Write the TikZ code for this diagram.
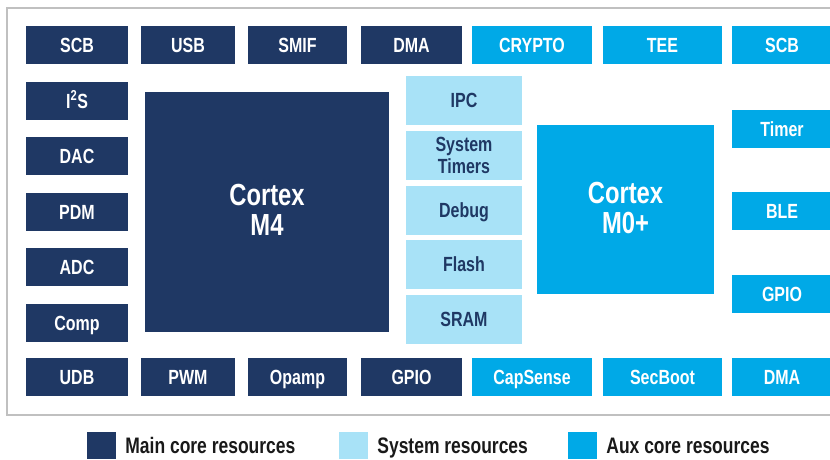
\documentclass[tikz,border=0pt]{standalone}
\usepackage{fontspec}
\setmainfont{Liberation Sans}[FakeStretch=0.78]
\usepackage{xcolor}
\usepackage{tikz}
\usetikzlibrary{positioning}

\definecolor{maincore}{RGB}{31,56,100}
\definecolor{syscore}{RGB}{168,226,247}
\definecolor{auxcore}{RGB}{0,169,231}
\definecolor{framegray}{RGB}{192,192,192}

\tikzset{
    res/.style={inner sep=0pt, minimum height=38pt, font=\fontsize{20.5}{21.5}\selectfont\bfseries},
    oneline/.style={text height=14.7pt, text depth=0pt},
    mainres/.style={res, oneline, fill=maincore, text=white},
    auxres/.style={res, oneline, fill=auxcore, text=white},
    sysres/.style={res, fill=syscore, text=maincore, minimum width=116pt, minimum height=49pt},
    core/.style={inner sep=0pt, text=white, align=center, font=\fontsize{30.5}{30}\selectfont\bfseries},
    keybox/.style={inner sep=0pt, minimum width=29pt, minimum height=27pt},
    keytext/.style={inner sep=0pt, text height=16pt, text depth=0pt, font=\fontsize{22.4}{22}\selectfont\bfseries, text=black!90}
}

\begin{document}
\begin{tikzpicture}[x=1pt,y=-1pt]
                \useasboundingbox (0,0) rectangle (830,460);
                \draw[framegray,line width=2pt] (7,8) rectangle (850,415);

                % top and bottom rows
                \foreach \name/\txt/\cx/\w in {scbm/SCB/77/102, usb/USB/188/94, smif/SMIF/297.5/99, dmam/DMA/411.5/101}
                    \node[mainres, minimum width=\w pt] (\name) at (\cx,45) {\txt};
                \foreach \name/\txt/\cx/\w in {crypto/CRYPTO/532/120, tee/TEE/662.5/119, scba/SCB/782/100}
                    \node[auxres, minimum width=\w pt] (\name) at (\cx,45) {\txt};
                \foreach \name/\txt/\cx/\w in {udb/UDB/77/102, pwm/PWM/188/94, opamp/Opamp/297.5/99, gpiom/GPIO/411.5/101}
                    \node[mainres, minimum width=\w pt] (\name) at (\cx,377) {\txt};
                \foreach \name/\txt/\cx/\w in {capsense/CapSense/532/120, secboot/SecBoot/662.5/119, dmaa/DMA/782/100}
                    \node[auxres, minimum width=\w pt] (\name) at (\cx,377) {\txt};

                % left and right columns
                \node[mainres, minimum width=102pt] (i2s) at (77,101) {I\textsuperscript{2}S};
                \foreach \name/\txt/\cy in {dac/DAC/156, pdm/PDM/212, adc/ADC/267, comp/Comp/323}
                    \node[mainres, minimum width=102pt] (\name) at (77,\cy) {\txt};
                \foreach \name/\txt/\cy in {timer/Timer/129, ble/BLE/211, gpioa/GPIO/294}
                    \node[auxres, minimum width=100pt] (\name) at (782,\cy) {\txt};

                % system resources
                \node[sysres, oneline] (ipc) at (464,100.5) {IPC};
                \node[sysres, align=center] (systimers) at (464,155.5) {System\\Timers};
                \node[sysres, oneline] (debug) at (464,210.5) {Debug};
                \node[sysres, oneline] (flash) at (464,264.5) {Flash};
                \node[sysres, oneline] (sram) at (464,319.5) {SRAM};

                % cores
                \fill[maincore] (145,92) rectangle (389,332);
                \node[core] (m4) at (267,210) {Cortex\\M4};
                \fill[auxcore] (537,125) rectangle (714,294);
                \node[core] (m0) at (625.5,207.5) {Cortex\\M0+};

                % legend
                \node[keybox, fill=maincore] (keymain) at (101.5,445) {};
                \node[keytext, right=9pt of keymain] (keymaintxt) {Main core resources};
                \node[keybox, fill=syscore] (keysys) at (353.5,445) {};
                \node[keytext, right=9pt of keysys] (keysystxt) {System resources};
                \node[keybox, fill=auxcore] (keyaux) at (582.5,445) {};
                \node[keytext, right=9pt of keyaux] (keyauxtxt) {Aux core resources};
\end{tikzpicture}
\end{document}
